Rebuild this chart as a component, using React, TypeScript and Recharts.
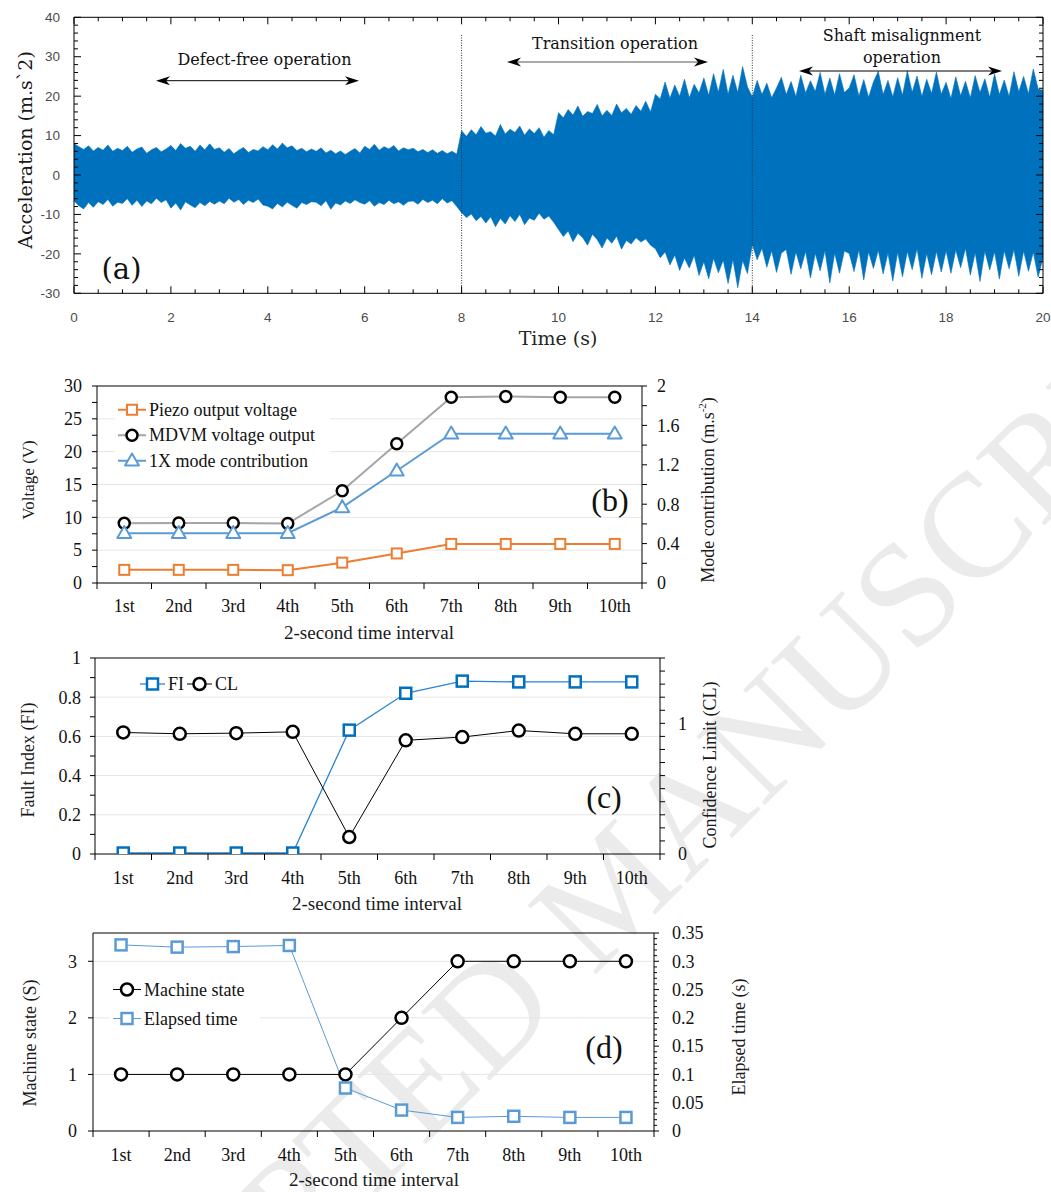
import React from 'react';
import { ComposedChart, Area, Line, XAxis, YAxis, ReferenceLine, CartesianGrid, Legend } from 'recharts';

const SERIF = '"Liberation Serif", "Times New Roman", serif';
const DSERIF = '"DejaVu Serif", serif';
const SANS = '"Liberation Sans", Arial, sans-serif';

// ================= Panel (a): acceleration envelope (every 0.1 s)
const ACC_UPPER = [
  8.0, 7.2, 6.5, 7.4, 6.1, 7.0, 6.3, 7.6, 6.0, 6.8,
  6.2, 7.3, 5.8, 6.6, 7.1, 5.5, 6.4, 7.0, 5.9, 6.6,
  7.5, 6.2, 8.0, 6.8, 7.3, 6.0, 7.6, 6.4, 7.9, 6.5,
  6.9, 5.8, 6.7, 5.4, 6.3, 7.0, 5.7, 6.5, 6.1, 7.2,
  6.4, 7.7, 6.6, 8.1, 6.9, 7.4, 6.2, 6.8, 5.9, 6.6,
  6.0, 6.9, 5.6, 6.3, 5.4, 6.1, 5.2, 6.0, 6.7, 5.6,
  7.3, 6.5, 7.8, 6.3, 7.2, 6.6, 7.5, 6.1, 6.9, 6.4,
  6.8, 5.9, 6.5, 5.7, 6.4, 5.5, 6.2, 5.4, 6.0, 5.3,
  11.2, 9.8, 11.5, 10.2, 12.3, 10.6, 11.0, 9.9, 12.8, 10.4,
  11.6, 10.8, 12.4, 10.1, 11.7, 10.5, 12.0, 9.6, 11.3, 10.2,
  15.8, 14.5, 16.6, 15.2, 17.5, 14.9, 16.1, 15.6, 17.9, 15.0,
  16.4, 15.1, 18.0, 15.8, 16.9, 15.4, 17.6, 16.2, 18.7, 16.0,
  20.5, 19.3, 23.6, 19.5, 22.8, 20.0, 24.3, 19.6, 23.0, 20.8,
  24.6, 20.2, 25.7, 21.0, 26.8, 20.5, 25.3, 20.9, 27.5, 22.4,
  19.8, 24.0, 20.4, 23.3, 19.6, 22.1, 24.8, 20.4, 23.7, 19.9,
  25.3, 20.8, 23.9, 21.2, 26.0, 20.5, 24.6, 20.3, 25.7, 20.9,
  22.1, 25.4, 20.0, 24.2, 19.7, 23.6, 26.3, 20.4, 24.0, 19.8,
  24.7, 20.2, 26.4, 21.0, 25.1, 19.9, 24.3, 20.7, 26.1, 20.5,
  23.5, 19.4, 24.9, 20.1, 23.8, 19.6, 25.2, 20.9, 24.4, 19.7,
  25.6, 20.4, 24.1, 19.9, 26.2, 21.1, 25.0, 20.6, 26.9, 21.8,
  21.5,
];
const ACC_LOWER = [
  -6.5, -7.8, -8.6, -7.0, -8.2, -6.8, -7.5, -6.2, -7.9, -6.9,
  -7.2, -6.0, -7.7, -6.4, -8.0, -6.6, -7.3, -5.9, -7.0, -6.3,
  -8.4, -7.1, -8.9, -6.8, -7.6, -8.3, -7.0, -7.8, -6.7, -7.4,
  -6.6, -7.3, -5.9, -6.9, -6.2, -7.5, -6.4, -7.0, -6.1, -7.6,
  -7.9, -8.6, -7.2, -8.1, -6.9, -7.7, -8.4, -7.0, -7.5, -6.8,
  -6.9, -7.8, -6.5, -8.7, -7.1, -7.6, -6.6, -7.2, -6.3, -7.0,
  -7.4, -6.5, -7.9, -7.0, -7.5, -6.4, -7.3, -6.8, -7.7, -6.7,
  -6.6, -7.4, -6.2, -7.0, -6.4, -7.3, -6.0, -7.1, -6.5, -8.0,
  -9.6, -10.8, -9.9, -11.6, -10.5, -12.2, -10.6, -13.1, -11.0, -12.4,
  -10.3, -11.8, -10.0, -12.6, -10.9, -11.5, -9.7, -11.2, -10.4, -12.0,
  -13.8, -15.6, -14.2, -16.9, -14.8, -15.9, -17.8, -15.0, -16.4, -18.5,
  -16.0, -17.3, -15.5, -18.8, -16.6, -17.5, -15.9, -17.0, -16.2, -17.8,
  -18.7, -21.0, -19.5, -22.8, -20.3, -24.2, -21.1, -23.6, -20.4, -25.5,
  -22.0, -26.3, -21.1, -24.8, -21.6, -27.5, -21.4, -28.6, -21.7, -25.0,
  -17.6, -21.5, -18.6, -23.4, -19.2, -24.7, -19.8, -18.9, -25.2, -19.5,
  -23.8, -19.4, -26.1, -19.9, -24.3, -19.2, -27.4, -19.8, -24.9, -19.3,
  -19.9, -24.5, -19.0, -26.6, -19.5, -23.7, -19.1, -25.1, -19.8, -26.9,
  -19.6, -25.8, -19.4, -24.0, -18.7, -26.2, -19.9, -25.3, -19.4, -24.6,
  -19.2, -24.9, -19.0, -23.5, -18.6, -25.4, -19.7, -27.0, -19.3, -24.1,
  -19.5, -26.4, -19.2, -23.8, -18.9, -25.7, -19.3, -24.4, -19.6, -25.9,
  -21.0,
];
const SAMPLE_STEP_S = 0.1;
const TIME_LABELS = [0, 2, 4, 6, 8, 10, 12, 14, 16, 18, 20];
const ACC_LABELS = [-30, -20, -10, 0, 10, 20, 30, 40];
const PHASE_BOUNDARIES = [8, 14];

const signalData = ACC_UPPER.map((hi, i) => ({ t: +(i * SAMPLE_STEP_S).toFixed(1), band: [ACC_LOWER[i], hi] }));
const timeTicks = Array.from({ length: 41 }, (_, i) => i * 0.5);
const accTicks = Array.from({ length: 36 }, (_, i) => -30 + i * 2);

// ================= Panels (b)-(d)
const INTERVALS = ['1st', '2nd', '3rd', '4th', '5th', '6th', '7th', '8th', '9th', '10th'];

const PIEZO_V = [2.0, 2.0, 2.0, 1.95, 3.1, 4.5, 5.95, 5.95, 5.95, 5.95];
const MDVM_V = [9.1, 9.15, 9.15, 9.05, 14.05, 21.2, 28.3, 28.4, 28.3, 28.3];
const MODE_1X = [0.505, 0.505, 0.505, 0.505, 0.768, 1.14, 1.515, 1.515, 1.515, 1.515];
const VOLT_TICKS = [0, 2.5, 5, 7.5, 10, 12.5, 15, 17.5, 20, 22.5, 25, 27.5, 30];
const VOLT_LABELS = [0, 5, 10, 15, 20, 25, 30];
const MODE_TICKS = [0, 0.2, 0.4, 0.6, 0.8, 1, 1.2, 1.4, 1.6, 1.8, 2];
const MODE_LABELS = [0, 0.4, 0.8, 1.2, 1.6, 2];

const FI = [0.005, 0.005, 0.005, 0.005, 0.632, 0.82, 0.882, 0.878, 0.878, 0.878];
const CL = [0.93, 0.92, 0.925, 0.935, 0.13, 0.87, 0.895, 0.945, 0.92, 0.92];
const FI_TICKS = [0, 0.1, 0.2, 0.3, 0.4, 0.5, 0.6, 0.7, 0.8, 0.9, 1];
const FI_LABELS = [0, 0.2, 0.4, 0.6, 0.8, 1];
const CL_TICKS = [0, 0.1, 0.2, 0.3, 0.4, 0.5, 0.6, 0.7, 0.8, 0.9, 1, 1.1, 1.2, 1.3, 1.4, 1.5];
const CL_LABELS = [0, 1];

const STATE = [1, 1, 1, 1, 1, 2, 3, 3, 3, 3];
const ELAPSED = [0.329, 0.325, 0.326, 0.328, 0.076, 0.037, 0.024, 0.026, 0.024, 0.024];
const STATE_LABELS = [0, 1, 2, 3];
const ELAPSED_LABELS = [0, 0.05, 0.1, 0.15, 0.2, 0.25, 0.3, 0.35];
const elapsedTicks = Array.from({ length: 36 }, (_, i) => +(i * 0.01).toFixed(2));

const dataB = INTERVALS.map((label, i) => ({ label, piezo: PIEZO_V[i], mdvm: MDVM_V[i], mode: MODE_1X[i] }));
const dataC = INTERVALS.map((label, i) => ({ label, fi: FI[i], cl: CL[i] }));
const dataD = INTERVALS.map((label, i) => ({ label, state: STATE[i], elapsed: ELAPSED[i] }));

// ================= tick helpers
type Side = 'bottom' | 'top' | 'left' | 'right';
interface TickStyle {
  side: Side; labels: number[]; majorLen: number; minorLen: number; inward: boolean;
  gap: number; font: string; size: number; color: string; hideLabels?: boolean;
}
const near = (a: number, b: number) => Math.abs(a - b) < 1e-7;
const fmt = (v: number) => String(+v.toFixed(4));

function numTick(s: TickStyle) {
  return (p: any) => {
    const v = Number(p.payload?.value);
    const isLab = s.labels.some((l) => near(l, v));
    const len = isLab ? s.majorLen : s.minorLen;
    const o = s.inward ? -1 : 1;
    const x = p.x, y = p.y;
    let x2 = x, y2 = y, tx = x, ty = y;
    let anchor: any = 'middle';
    if (s.side === 'bottom') { y2 = y + o * len; ty = y + s.gap; }
    else if (s.side === 'top') { y2 = y - o * len; ty = y - s.gap; }
    else if (s.side === 'left') { x2 = x - o * len; tx = x - s.gap; ty = y + s.size * 0.35; anchor = 'end'; }
    else { x2 = x + o * len; tx = x + s.gap; ty = y + s.size * 0.35; anchor = 'start'; }
    return (
      <g>
        {len > 0 && <line x1={x} y1={y} x2={x2} y2={y2} stroke="#000" strokeWidth={1} />}
        {isLab && !s.hideLabels && (
          <text x={tx} y={ty} textAnchor={anchor} fontFamily={s.font} fontSize={s.size} fill={s.color}>{fmt(v)}</text>
        )}
      </g>
    );
  };
}

function catTick(half: number, count: number, len: number, gap: number) {
  return (p: any) => {
    const x = p.x, y = p.y;
    return (
      <g>
        <line x1={x - half} x2={x - half} y1={y} y2={y + len} stroke="#000" strokeWidth={1} />
        {p.index === count - 1 && <line x1={x + half} x2={x + half} y1={y} y2={y + len} stroke="#000" strokeWidth={1} />}
        <text x={x} y={y + gap} textAnchor="middle" fontFamily={SERIF} fontSize={18} fill="#111">{p.payload.value}</text>
      </g>
    );
  };
}

// ================= markers
type MK = 'square' | 'circle' | 'triangle';
function marker(kind: MK, cx: number, cy: number, color: string, size: number, sw: number) {
  if (kind === 'square') return <rect x={cx - size / 2} y={cy - size / 2} width={size} height={size} fill="#fff" stroke={color} strokeWidth={sw} />;
  if (kind === 'circle') return <circle cx={cx} cy={cy} r={size / 2} fill="#fff" stroke={color} strokeWidth={sw} />;
  return <path d={`M${cx},${cy - size * 0.6} L${cx + size * 0.58},${cy + size * 0.4} L${cx - size * 0.58},${cy + size * 0.4} Z`} fill="#fff" stroke={color} strokeWidth={sw} strokeLinejoin="round" />;
}
function dotR(kind: MK, color: string, size: number, sw: number) {
  return (p: any) => {
    if (p.cx == null || p.cy == null) return <g key={`n${p.index}`} />;
    return <g key={`d${p.index}`}>{marker(kind, p.cx, p.cy, color, size, sw)}</g>;
  };
}

interface LegItem { name: string; kind: MK; line: string; mark: string; size: number; sw: number; lw: number }
const LEGEND_B: LegItem[] = [
  { name: 'Piezo output voltage', kind: 'square', line: '#ED7D31', mark: '#ED7D31', size: 10, sw: 2, lw: 2 },
  { name: 'MDVM voltage output', kind: 'circle', line: '#A5A5A5', mark: '#000', size: 11, sw: 2.5, lw: 2 },
  { name: '1X mode contribution', kind: 'triangle', line: '#5B9BD5', mark: '#5B9BD5', size: 12, sw: 2, lw: 2 },
];
const LEGEND_C: LegItem[] = [
  { name: 'FI', kind: 'square', line: '#2A84D2', mark: '#0070C0', size: 11, sw: 2.5, lw: 1.3 },
  { name: 'CL', kind: 'circle', line: '#000', mark: '#000', size: 12, sw: 2.5, lw: 1 },
];
const LEGEND_D: LegItem[] = [
  { name: 'Machine state', kind: 'circle', line: '#000', mark: '#000', size: 12, sw: 2.5, lw: 1 },
  { name: 'Elapsed time', kind: 'square', line: '#5B9BD5', mark: '#5B9BD5', size: 11, sw: 2.5, lw: 1 },
];

function legendVertical(items: LegItem[], w: number, rowH: number, lineW: number) {
  return () => (
    <svg width={w} height={items.length * rowH} style={{ display: 'block' }}>
      <rect x={0} y={0} width={w} height={items.length * rowH} fill="#fff" />
      {items.map((it, i) => {
        const cy = rowH / 2 + i * rowH;
        return (
          <g key={it.name}>
            <line x1={3} x2={3 + lineW} y1={cy} y2={cy} stroke={it.line} strokeWidth={it.lw} />
            {marker(it.kind, 3 + lineW / 2, cy, it.mark, it.size, it.sw)}
            <text x={lineW + 6} y={cy + 6} fontFamily={SERIF} fontSize={18} fill="#111">{it.name}</text>
          </g>
        );
      })}
    </svg>
  );
}
function legendRow(items: LegItem[]) {
  return () => (
    <svg width={110} height={24} style={{ display: 'block' }}>
      <rect x={0} y={0} width={110} height={24} fill="#fff" />
      {items.map((it, i) => {
        const x0 = 5 + i * 47;
        return (
          <g key={it.name}>
            <line x1={x0} x2={x0 + 25} y1={12} y2={12} stroke={it.line} strokeWidth={it.lw} />
            {marker(it.kind, x0 + 12.5, 12, it.mark, it.size, it.sw)}
            <text x={x0 + 28} y={18} fontFamily={SERIF} fontSize={18} fill="#111">{it.name}</text>
          </g>
        );
      })}
    </svg>
  );
}

function Arrow({ x1, x2, y, color = '#000' }: { x1: number; x2: number; y: number; color?: string }) {
  return (
    <g>
      <line x1={x1 + 6} x2={x2 - 6} y1={y} y2={y} stroke={color} strokeWidth={1} />
      <polygon points={`${x1},${y} ${x1 + 14},${y - 4.5} ${x1 + 10},${y} ${x1 + 14},${y + 4.5}`} fill="#000" />
      <polygon points={`${x2},${y} ${x2 - 14},${y - 4.5} ${x2 - 10},${y} ${x2 - 14},${y + 4.5}`} fill="#000" />
    </g>
  );
}

function VText({ x, y, size, font, children }: any) {
  return (
    <text x={x} y={y} transform={`rotate(-90 ${x} ${y})`} textAnchor="middle" dominantBaseline="central" fontFamily={font} fontSize={size} fill="#1a1a1a">{children}</text>
  );
}

const abs = (top: number): React.CSSProperties => ({ position: 'absolute', left: 0, top, zIndex: 1 });

// plot boxes: [left, top, right, bottom] in page pixels; axes take 1px each
function marginFor(w: number, h: number, l: number, t: number, r: number, b: number) {
  return { left: l - 1, top: t - 1, right: w - r - 1, bottom: h - b - 1 };
}

export default function App() {
  const A = { w: 1051, h: 350, m: marginFor(1051, 350, 74, 17.3, 1043, 293.3) };
  const B = { w: 760, h: 300, top: 350, pl: 97, pr: 642, m: marginFor(760, 300, 97, 36, 642, 233) };
  const C = { w: 760, h: 270, top: 645, pl: 95, pr: 660, m: marginFor(760, 270, 95, 13, 660, 209) };
  const D = { w: 760, h: 277, top: 915, pl: 93, pr: 654, m: marginFor(760, 277, 93, 18, 654, 216) };
  const half = (g: any) => (g.pr - g.pl) / INTERVALS.length / 2;

  const aTick = (side: Side, labels: number[], hide: boolean, gap: number) =>
    numTick({ side, labels, majorLen: 7, minorLen: 4, inward: true, gap, font: SANS, size: 13.5, color: '#4d4d4d', hideLabels: hide });
  const sTick = (side: Side, labels: number[], gap: number, minorLen = 5, majorLen = 5) =>
    numTick({ side, labels, majorLen, minorLen, inward: false, gap, font: SERIF, size: 18, color: '#111' });

  const commonAxis = { tickSize: 0, tickMargin: 0, interval: 0 as const, axisLine: { stroke: '#000' }, tickLine: false, allowDataOverflow: true };

  return (
    <div style={{ position: 'absolute', left: 0, top: 0, width: 1051, height: 1192, background: '#fff', overflow: 'hidden' }}>
      {/* watermark */}
      <svg style={{ position: 'absolute', left: 0, top: 0, zIndex: 0 }} width={1051} height={1192}>
        <g transform="translate(593,977) rotate(-45)" fontFamily={SERIF} fontSize={148} fill="#ebebeb">
          <text x={0} y={0}>MANUSCRIPT</text>
          <text x={-44} y={0} textAnchor="end">ACCEPTED</text>
        </g>
      </svg>

      {/* (a) */}
      <div style={abs(0)}>
        <ComposedChart width={A.w} height={A.h} data={signalData} margin={A.m}>
          <XAxis xAxisId="bottom" dataKey="t" type="number" domain={[0, 20]} ticks={timeTicks} height={1} {...commonAxis} tick={aTick('bottom', TIME_LABELS, false, 28.5)} />
          <XAxis xAxisId="top" orientation="top" dataKey="t" type="number" domain={[0, 20]} ticks={timeTicks} height={1} {...commonAxis} tick={aTick('top', TIME_LABELS, true, 0)} />
          <YAxis yAxisId="left" type="number" domain={[-30, 40]} ticks={accTicks} width={1} {...commonAxis} tick={aTick('left', ACC_LABELS, false, 14)} />
          <YAxis yAxisId="right" orientation="right" type="number" domain={[-30, 40]} ticks={accTicks} width={1} {...commonAxis} tick={aTick('right', ACC_LABELS, true, 0)} />
          <Area xAxisId="bottom" yAxisId="left" type="linear" dataKey="band" stroke="#0072BD" strokeWidth={0.6} fill="#0072BD" fillOpacity={1} isAnimationActive={false} dot={false} activeDot={false} />
          {PHASE_BOUNDARIES.map((b) => (
            <ReferenceLine key={b} xAxisId="bottom" yAxisId="left" segment={[{ x: b, y: 35.5 }, { x: b, y: -30 }]} stroke="#333" strokeWidth={1} strokeDasharray="1 1.5" />
          ))}
        </ComposedChart>
      </div>

      {/* (b) */}
      <div style={abs(B.top)}>
        <ComposedChart width={B.w} height={B.h} data={dataB} margin={B.m}>
          <CartesianGrid yAxisId="left" xAxisId="bottom" vertical={false} horizontalValues={[5, 10, 15, 20, 25]} stroke="#e6e6e6" />
          <XAxis xAxisId="bottom" dataKey="label" type="category" scale="band" height={1} {...commonAxis} tick={catTick(half(B), INTERVALS.length, 6, 29)} />
          <XAxis xAxisId="top" orientation="top" dataKey="label" type="category" scale="band" height={1} {...commonAxis} tick={false} />
          <YAxis yAxisId="left" type="number" domain={[0, 30]} ticks={VOLT_TICKS} width={1} {...commonAxis} tick={sTick('left', VOLT_LABELS, 15)} />
          <YAxis yAxisId="right" orientation="right" type="number" domain={[0, 2]} ticks={MODE_TICKS} width={1} {...commonAxis} tick={sTick('right', MODE_LABELS, 15)} />
          <Line xAxisId="bottom" yAxisId="left" dataKey="piezo" name="Piezo output voltage" stroke="#ED7D31" strokeWidth={2} dot={dotR('square', '#ED7D31', 10, 2)} activeDot={false} isAnimationActive={false} />
          <Line xAxisId="bottom" yAxisId="left" dataKey="mdvm" name="MDVM voltage output" stroke="#A5A5A5" strokeWidth={2} dot={dotR('circle', '#000', 11, 2.5)} activeDot={false} isAnimationActive={false} />
          <Line xAxisId="bottom" yAxisId="right" dataKey="mode" name="1X mode contribution" stroke="#5B9BD5" strokeWidth={2} dot={dotR('triangle', '#5B9BD5', 12, 2)} activeDot={false} isAnimationActive={false} />
          <Legend layout="vertical" align="center" verticalAlign="middle" wrapperStyle={{ left: 115, top: 47, width: 'auto' }} content={legendVertical(LEGEND_B, 215, 25.5, 28)} />
        </ComposedChart>
      </div>

      {/* (c) */}
      <div style={abs(C.top)}>
        <ComposedChart width={C.w} height={C.h} data={dataC} margin={C.m}>
          <CartesianGrid yAxisId="left" xAxisId="bottom" vertical={false} horizontalValues={[0.2, 0.4, 0.6, 0.8]} stroke="#e6e6e6" />
          <XAxis xAxisId="bottom" dataKey="label" type="category" scale="band" height={1} {...commonAxis} tick={catTick(half(C), INTERVALS.length, 6, 29.5)} />
          <XAxis xAxisId="top" orientation="top" dataKey="label" type="category" scale="band" height={1} {...commonAxis} tick={false} />
          <YAxis yAxisId="left" type="number" domain={[0, 1]} ticks={FI_TICKS} width={1} {...commonAxis} tick={sTick('left', FI_LABELS, 14)} />
          <YAxis yAxisId="right" orientation="right" type="number" domain={[0, 1.5]} ticks={CL_TICKS} width={1} {...commonAxis} tick={sTick('right', CL_LABELS, 18)} />
          <Line xAxisId="bottom" yAxisId="left" dataKey="fi" name="FI" stroke="#2A84D2" strokeWidth={1.3} dot={dotR('square', '#0070C0', 11, 2.5)} activeDot={false} isAnimationActive={false} />
          <Line xAxisId="bottom" yAxisId="right" dataKey="cl" name="CL" stroke="#000" strokeWidth={1} dot={dotR('circle', '#000', 12, 2.5)} activeDot={false} isAnimationActive={false} />
          <Legend layout="vertical" align="center" verticalAlign="middle" wrapperStyle={{ left: 135, top: 27, width: 'auto' }} content={legendRow(LEGEND_C)} />
        </ComposedChart>
      </div>

      {/* (d) */}
      <div style={abs(D.top)}>
        <ComposedChart width={D.w} height={D.h} data={dataD} margin={D.m}>
          <CartesianGrid yAxisId="left" xAxisId="bottom" vertical={false} horizontalValues={[1, 2, 3]} stroke="#e6e6e6" />
          <XAxis xAxisId="bottom" dataKey="label" type="category" scale="band" height={1} {...commonAxis} tick={catTick(half(D), INTERVALS.length, 6, 29.5)} />
          <XAxis xAxisId="top" orientation="top" dataKey="label" type="category" scale="band" height={1} {...commonAxis} tick={false} />
          <YAxis yAxisId="left" type="number" domain={[0, 3.5]} ticks={STATE_LABELS} width={1} {...commonAxis} tick={sTick('left', STATE_LABELS, 16)} />
          <YAxis yAxisId="right" orientation="right" type="number" domain={[0, 0.35]} ticks={elapsedTicks} width={1} {...commonAxis} tick={sTick('right', ELAPSED_LABELS, 18, 3, 5)} />
          <Line xAxisId="bottom" yAxisId="left" dataKey="state" name="Machine state" stroke="#000" strokeWidth={1} dot={dotR('circle', '#000', 12, 2.5)} activeDot={false} isAnimationActive={false} />
          <Line xAxisId="bottom" yAxisId="right" dataKey="elapsed" name="Elapsed time" stroke="#5B9BD5" strokeWidth={1} dot={dotR('square', '#5B9BD5', 11, 2.5)} activeDot={false} isAnimationActive={false} />
          <Legend layout="vertical" align="center" verticalAlign="middle" wrapperStyle={{ left: 110, top: 60, width: 'auto' }} content={legendVertical(LEGEND_D, 150, 29, 28)} />
        </ComposedChart>
      </div>

      {/* titles & annotations */}
      <svg style={{ position: 'absolute', left: 0, top: 0, zIndex: 2, pointerEvents: 'none' }} width={1051} height={1192}>
        {/* (a) */}
        <VText x={25} y={150} size={19} font={DSERIF}>Acceleration (m.s`2)</VText>
        <text x={558} y={338} textAnchor="middle" dominantBaseline="central" fontFamily={DSERIF} fontSize={19} fill="#262626">Time (s)</text>
        <text x={264.5} y={59} textAnchor="middle" dominantBaseline="central" fontFamily={DSERIF} fontSize={16} fill="#111">Defect-free operation</text>
        <Arrow x1={156} x2={359} y={80.7} />
        <text x={615} y={43.5} textAnchor="middle" dominantBaseline="central" fontFamily={DSERIF} fontSize={16} fill="#111">Transition operation</text>
        <Arrow x1={507} x2={708} y={62} color="#555" />
        <text x={902} y={35} textAnchor="middle" dominantBaseline="central" fontFamily={DSERIF} fontSize={16} fill="#111">Shaft misalignment</text>
        <text x={902} y={57.3} textAnchor="middle" dominantBaseline="central" fontFamily={DSERIF} fontSize={16} fill="#111">operation</text>
        <Arrow x1={799} x2={1002} y={71} />
        <text x={121.5} y={269} textAnchor="middle" dominantBaseline="central" fontFamily={DSERIF} fontSize={29} fill="#111">(a)</text>

        {/* (b) */}
        <VText x={28} y={480} size={17} font={SERIF}>Voltage (V)</VText>
        <text x={708} y={490} transform="rotate(-90 708 490)" textAnchor="middle" dominantBaseline="central" fontFamily={SERIF} fontSize={18} fill="#1a1a1a">
          <tspan>Mode contribution (m.s</tspan><tspan dy={-6} fontSize={11}>-2</tspan><tspan dy={6}>)</tspan>
        </text>
        <text x={369} y={632} textAnchor="middle" dominantBaseline="central" fontFamily={SERIF} fontSize={19} fill="#1a1a1a">2-second time interval</text>
        <text x={610} y={500} textAnchor="middle" dominantBaseline="central" fontFamily={SERIF} fontSize={32} fill="#111">(b)</text>

        {/* (c) */}
        <VText x={28} y={760} size={18} font={SERIF}>Fault Index (FI)</VText>
        <VText x={710} y={765} size={18} font={SERIF}>Confidence Limit (CL)</VText>
        <text x={377} y={903} textAnchor="middle" dominantBaseline="central" fontFamily={SERIF} fontSize={19} fill="#1a1a1a">2-second time interval</text>
        <text x={604} y={797} textAnchor="middle" dominantBaseline="central" fontFamily={SERIF} fontSize={32} fill="#111">(c)</text>

        {/* (d) */}
        <VText x={30} y={1043} size={18} font={SERIF}>Machine state (S)</VText>
        <VText x={739} y={1037} size={18} font={SERIF}>Elapsed time (s)</VText>
        <text x={374} y={1179} textAnchor="middle" dominantBaseline="central" fontFamily={SERIF} fontSize={19} fill="#1a1a1a">2-second time interval</text>
        <text x={604} y={1047} textAnchor="middle" dominantBaseline="central" fontFamily={SERIF} fontSize={32} fill="#111">(d)</text>
      </svg>
    </div>
  );
}
